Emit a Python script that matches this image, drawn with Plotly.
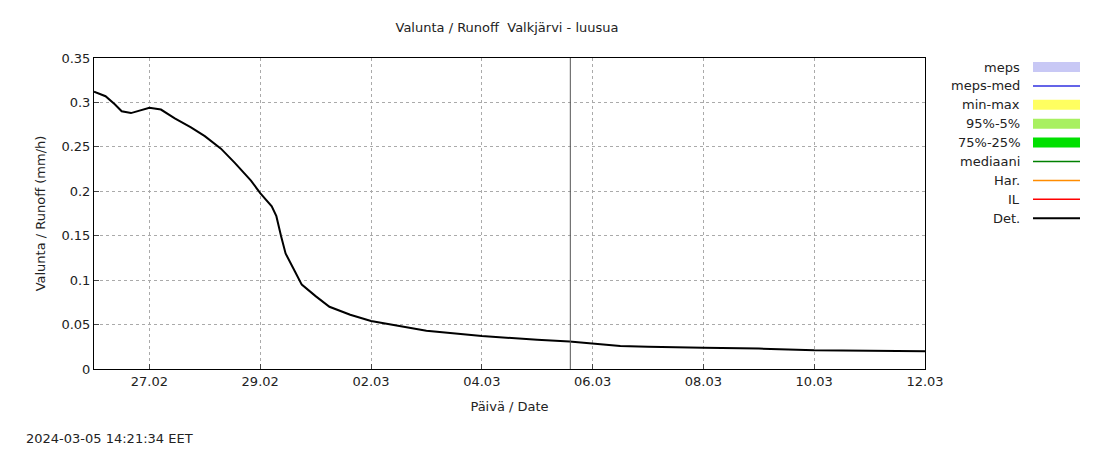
import plotly.graph_objects as go

# Det. runoff series (mm/h)
times = [
    "2024-02-26 00:00", "2024-02-26 05:00", "2024-02-26 09:00", "2024-02-26 12:00",
    "2024-02-26 16:00", "2024-02-26 20:00", "2024-02-27 00:00", "2024-02-27 05:00",
    "2024-02-27 11:00", "2024-02-27 18:00", "2024-02-28 00:00", "2024-02-28 07:00",
    "2024-02-28 13:00", "2024-02-28 20:00", "2024-02-29 00:00", "2024-02-29 05:00",
    "2024-02-29 07:00", "2024-02-29 09:00", "2024-02-29 11:00", "2024-02-29 15:00",
    "2024-02-29 18:00", "2024-03-01 00:00", "2024-03-01 06:00", "2024-03-01 15:00",
    "2024-03-02 00:00", "2024-03-03 00:00", "2024-03-04 00:00", "2024-03-05 00:00",
    "2024-03-05 14:00", "2024-03-06 12:00", "2024-03-07 00:00", "2024-03-08 00:00",
    "2024-03-09 00:00", "2024-03-10 00:00", "2024-03-11 00:00", "2024-03-12 00:00",
]
runoff = [
    0.312, 0.307, 0.298, 0.290,
    0.288, 0.291, 0.294, 0.292,
    0.282, 0.272, 0.262, 0.248,
    0.232, 0.212, 0.198, 0.183,
    0.172, 0.150, 0.130, 0.110,
    0.095, 0.082, 0.070, 0.061,
    0.054, 0.043, 0.037, 0.033,
    0.031, 0.026, 0.025, 0.024,
    0.023, 0.021, 0.0205, 0.020,
]
now_time = "2024-03-05 14:21"
tick_vals = ["2024-02-27", "2024-02-29", "2024-03-02", "2024-03-04",
             "2024-03-06", "2024-03-08", "2024-03-10", "2024-03-12"]
tick_text = ["27.02", "29.02", "02.03", "04.03", "06.03", "08.03", "10.03", "12.03"]

legend_names = ["meps", "meps-med", "min-max", "95%-5%", "75%-25%", "mediaani", "Har.", "IL", "Det."]
legend_colors = ["#c8c8f5", "#3030e0", "#ffff60", "#a8f060", "#00e000", "#008000", "#ff8c00", "#ff0000", "#000000"]
legend_kinds = ["box", "line", "box", "box", "box", "line", "line", "line", "line"]

FONT = "DejaVu Sans, Arial, sans-serif"
OFF = 8  # page body margin
L, R, T, B = 94, 925, 58, 369

def px(x):
    return (x - L) / (R - L)

def py(y):
    return (B - y) / (B - T)

fig = go.Figure()
fig.add_trace(go.Scatter(x=times, y=runoff, mode="lines",
                         line=dict(color="black", width=2), showlegend=False))

shapes = [dict(type="line", xref="x", yref="paper", x0=now_time, x1=now_time,
               y0=0, y1=1, line=dict(color="#555555", width=1))]
annotations = []
for i, (name, col, kind) in enumerate(zip(legend_names, legend_colors, legend_kinds)):
    yc = 67 + i * 18.9
    annotations.append(dict(xref="paper", yref="paper", x=px(1022), y=py(yc), text=name,
                            showarrow=False, xanchor="right", yanchor="middle",
                            font=dict(size=13, color="#222", family=FONT)))
    if kind == "box":
        shapes.append(dict(type="rect", xref="paper", yref="paper", x0=px(1033), x1=px(1080),
                           y0=py(yc + 5), y1=py(yc - 5), fillcolor=col, line=dict(width=0)))
    else:
        shapes.append(dict(type="line", xref="paper", yref="paper", x0=px(1033), x1=px(1080),
                           y0=py(yc), y1=py(yc), line=dict(color=col, width=2 if name == "Det." else 1.5)))

annotations.append(dict(xref="paper", yref="paper", x=px(24), y=py(438), text="2024-03-05 14:21:34 EET",
                        showarrow=False, xanchor="left", yanchor="middle",
                        font=dict(size=13, color="#222", family=FONT)))

fig.update_layout(
    width=1100, height=450,
    margin=dict(l=L - OFF, r=1100 - R + OFF, t=T - OFF, b=450 - B + OFF),
    paper_bgcolor="white", plot_bgcolor="white",
    font=dict(family=FONT, size=13, color="#222"),
    title=dict(text="Valunta / Runoff  Valkjärvi - luusua", x=((384 + 630) / 2 - OFF) / 1100,
               xanchor="center", y=1 - (27 - OFF) / 450, yanchor="middle", font=dict(size=13)),
    shapes=shapes, annotations=annotations,
    showlegend=False,
)
fig.update_xaxes(range=["2024-02-26", "2024-03-12"], tickvals=tick_vals, ticktext=tick_text,
                 showgrid=True, gridcolor="#aaa", griddash="dot", gridwidth=1,
                 showline=True, linecolor="black", mirror=True, ticks="inside", ticklen=5,
                 title=dict(text="Päivä / Date", standoff=14, font=dict(size=13)))
fig.update_yaxes(range=[0, 0.35], tickvals=[0, 0.05, 0.1, 0.15, 0.2, 0.25, 0.3, 0.35],
                 ticktext=["0", "0.05", "0.1", "0.15", "0.2", "0.25", "0.3", "0.35"],
                 showgrid=True, gridcolor="#aaa", griddash="dot", gridwidth=1, zeroline=False,
                 showline=True, linecolor="black", mirror=True, ticks="inside", ticklen=5,
                 title=dict(text="Valunta / Runoff (mm/h)", standoff=12, font=dict(size=13)))

fig.write_html("out.html")
